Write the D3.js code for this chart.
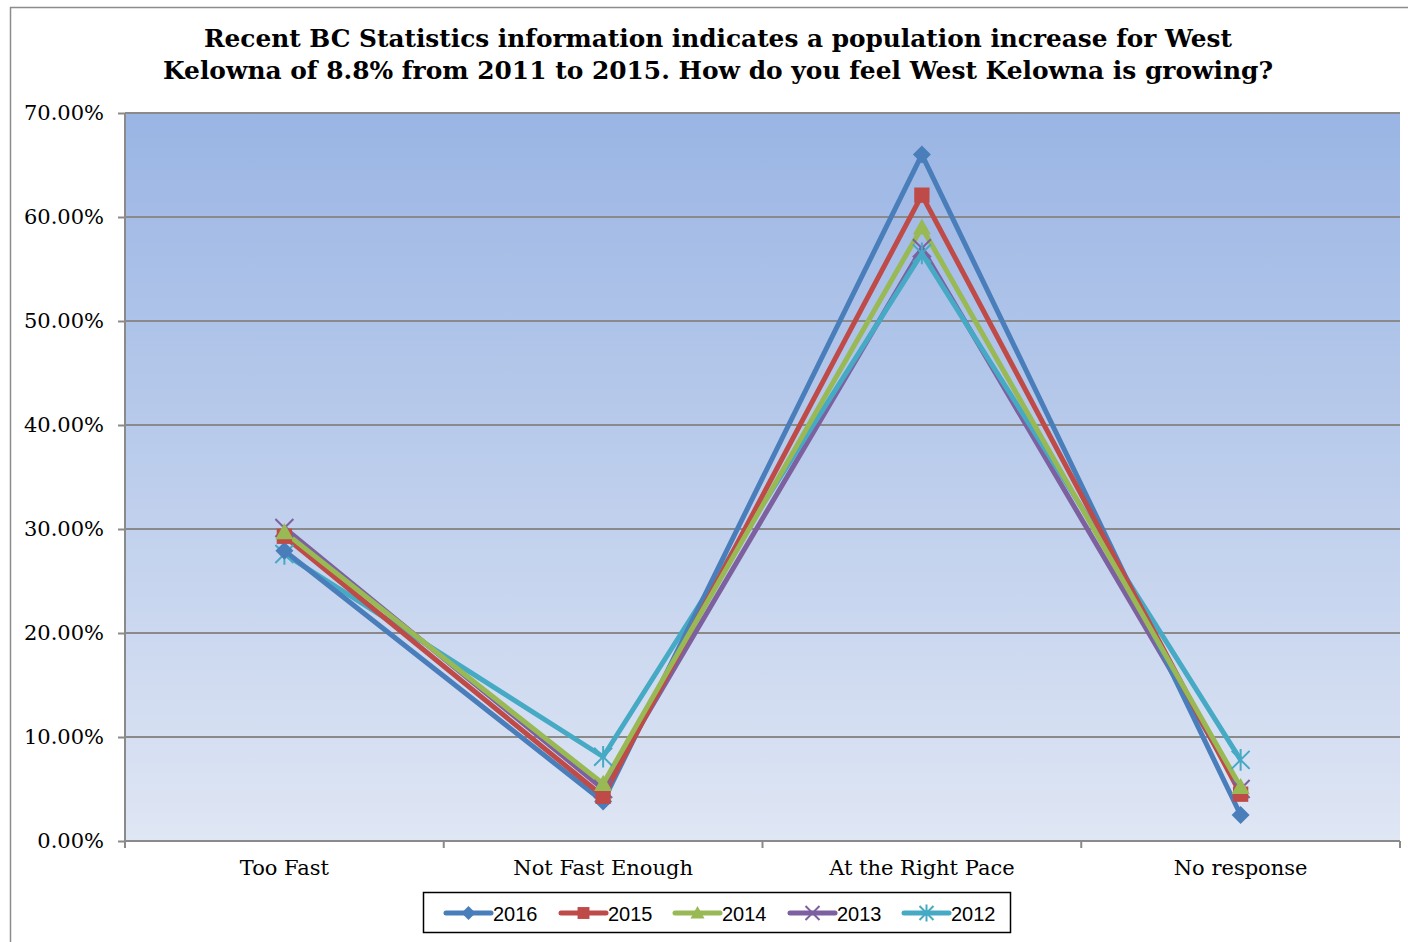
<!DOCTYPE html>
<html><head><meta charset="utf-8">
<script src="https://cdn.jsdelivr.net/npm/d3@7"></script>
<style>body{margin:0;background:#fff}svg{display:block}</style>
</head><body>
<svg id="c" width="1408" height="942"></svg>
<script>
const categories = ["Too Fast", "Not Fast Enough", "At the Right Pace", "No response"];
const seriesNames = ["2016", "2015", "2014", "2013", "2012"];
const v2016 = [0.279, 0.038, 0.660, 0.025];
const v2015 = [0.293, 0.043, 0.621, 0.045];
const v2014 = [0.297, 0.055, 0.590, 0.052];
const v2013 = [0.301, 0.050, 0.570, 0.050];
const v2012 = [0.276, 0.081, 0.565, 0.078];
const yTicks = [0, 0.1, 0.2, 0.3, 0.4, 0.5, 0.6, 0.7];
const titleLines = ["Recent BC Statistics information indicates a population increase for West",
                    "Kelowna of 8.8% from 2011 to 2015. How do you feel West Kelowna is growing?"];

const seriesValues = [v2016, v2015, v2014, v2013, v2012];
const colors = ["#4A7EBB", "#BE4B48", "#98B954", "#7D60A0", "#46AAC5"];
const markers = ["diamond", "square", "triangle", "x", "star"];
const drawOrder = [3, 4, 0, 1, 2];

const svg = d3.select("#c");
const L = 125, R = 1400, T = 113, B = 841;

svg.append("rect").attr("x", 10.5).attr("y", 7.5).attr("width", 1420).attr("height", 960)
  .attr("fill", "none").attr("stroke", "#8c8c8c").attr("stroke-width", 1.5);

const defs = svg.append("defs");
const grad = defs.append("linearGradient").attr("id", "bg").attr("x1", 0).attr("y1", 0).attr("x2", 0).attr("y2", 1);
grad.append("stop").attr("offset", "0%").attr("stop-color", "#9AB5E4");
grad.append("stop").attr("offset", "100%").attr("stop-color", "#DFE6F4");

const x = d3.scaleBand().domain(categories).range([L, R]).padding(0);
const y = d3.scaleLinear().domain([0, 0.7]).range([B, T]);

svg.append("rect").attr("x", L).attr("y", T).attr("width", R - L).attr("height", B - T).attr("fill", "url(#bg)");

svg.append("g").selectAll("line").data(yTicks).join("line")
  .attr("x1", L).attr("x2", R).attr("y1", d => y(d)).attr("y2", d => y(d))
  .attr("stroke", "#8a8a8a").attr("stroke-width", 2);

const yAxis = d3.axisLeft(y).tickValues(yTicks).tickFormat(d => d3.format(".2f")(d * 100) + "%").tickSize(7).tickPadding(14);
const gy = svg.append("g").attr("transform", `translate(${L},0)`).call(yAxis);
gy.select(".domain").attr("stroke", "#8a8a8a").attr("stroke-width", 2).attr("d", `M0,${T}V${B}`);
gy.selectAll(".tick line").attr("stroke", "#8a8a8a").attr("stroke-width", 2);
gy.selectAll("text").attr("font-family", "DejaVu Serif").attr("font-size", 21).attr("fill", "#000");

const gx = svg.append("g").attr("transform", `translate(0,${B})`);
gx.append("line").attr("x1", L).attr("x2", R).attr("stroke", "#8a8a8a").attr("stroke-width", 2);
const bounds = [L, ...categories.map(c => x(c) + x.bandwidth())];
gx.selectAll("line.t").data(bounds).join("line").attr("class", "t")
  .attr("x1", d => d).attr("x2", d => d).attr("y1", 0).attr("y2", 7)
  .attr("stroke", "#8a8a8a").attr("stroke-width", 2);
gx.selectAll("text").data(categories).join("text")
  .attr("x", d => x(d) + x.bandwidth() / 2).attr("y", 34)
  .attr("text-anchor", "middle").attr("font-family", "DejaVu Serif").attr("font-size", 21).text(d => d);

const line = d3.line().x((d, i) => x(categories[i]) + x.bandwidth() / 2).y(d => y(d));
function drawMarker(g, type, color, size) {
  const s = size;
  if (type === "diamond") g.append("path").attr("d", `M0,${-s}L${s},0L0,${s}L${-s},0Z`).attr("fill", color);
  else if (type === "square") g.append("rect").attr("x", -s * 0.85).attr("y", -s * 0.85).attr("width", s * 1.7).attr("height", s * 1.7).attr("fill", color);
  else if (type === "triangle") g.append("path").attr("d", `M0,${-s}L${s},${s * 0.8}L${-s},${s * 0.8}Z`).attr("fill", color);
  else if (type === "x") g.append("path").attr("d", `M${-s},${-s}L${s},${s}M${-s},${s}L${s},${-s}`).attr("stroke", color).attr("stroke-width", 2);
  else if (type === "star") g.append("path").attr("d", `M${-s},${-s}L${s},${s}M${-s},${s}L${s},${-s}M0,${-s * 1.2}V${s * 1.2}`).attr("stroke", color).attr("stroke-width", 2);
}
drawOrder.forEach(si => {
  svg.append("path").datum(seriesValues[si]).attr("d", line).attr("fill", "none")
    .attr("stroke", colors[si]).attr("stroke-width", 5).attr("stroke-linejoin", "round");
});
drawOrder.forEach(si => {
  seriesValues[si].forEach((v, i) => {
    const g = svg.append("g").attr("transform", `translate(${x(categories[i]) + x.bandwidth() / 2},${y(v)})`);
    drawMarker(g, markers[si], colors[si], 9);
  });
});

svg.append("g").selectAll("text").data(titleLines).join("text")
  .attr("x", 718).attr("y", (d, i) => 47 + i * 32).attr("text-anchor", "middle")
  .attr("font-family", "DejaVu Serif").attr("font-weight", "bold").attr("font-size", 23.5)
  .attr("textLength", (d, i) => i === 0 ? 1028 : 1110).attr("lengthAdjust", "spacingAndGlyphs")
  .text(d => d);

const lg = svg.append("g");
lg.append("rect").attr("x", 423.5).attr("y", 892.5).attr("width", 587).attr("height", 40)
  .attr("fill", "#fff").attr("stroke", "#000").attr("stroke-width", 1.5);
const lx = [446, 561, 675, 790, 904];
seriesNames.forEach((n, i) => {
  const g = lg.append("g").attr("transform", `translate(${lx[i]},913)`);
  g.append("line").attr("x1", 0).attr("x2", 45).attr("stroke", colors[i]).attr("stroke-width", 5).attr("stroke-linecap", "round");
  const m = g.append("g").attr("transform", "translate(22.5,0)");
  drawMarker(m, markers[i], colors[i], 7);
  g.append("text").attr("x", 47).attr("y", 8).attr("font-family", "Liberation Sans").attr("font-size", 20).text(n);
});
</script>
</body></html>
